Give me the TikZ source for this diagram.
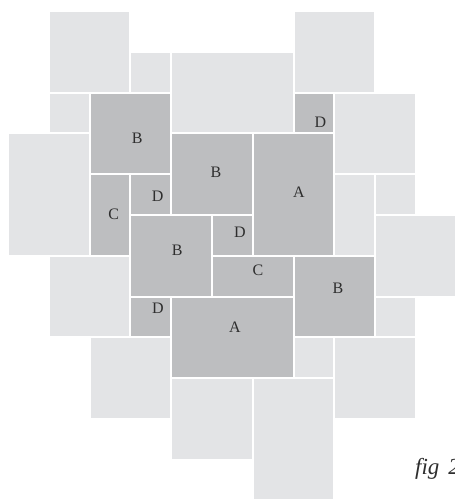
\documentclass[tikz,border=0pt]{standalone}
\usepackage{fontspec}
\setmainfont{Liberation Serif}
\definecolor{tlight}{HTML}{E3E4E6}
\definecolor{tdark}{HTML}{BDBEC0}
\definecolor{ink}{HTML}{2E2E2E}
\newcommand{\pavetile}[5]{\fill[#1] ({9+40.8*#2},{12+40.8*#3}) rectangle ({9+40.8*(#2+#4)-2},{12+40.8*(#3+#5)-2});}
\begin{document}
\begin{tikzpicture}[x=1pt,y=-1pt,
  light/.style={fill=tlight},
  dark/.style={fill=tdark},
  lbl/.style={text=ink,font=\fontsize{16}{16}\selectfont,inner sep=0pt}]
\useasboundingbox (0,0) rectangle (455,499);
\fill[white] (0,0) rectangle (455,499);
% light tiles
\pavetile{light}{1}{0}{2}{2}
\pavetile{light}{7}{0}{2}{2}
\pavetile{light}{3}{1}{1}{1}
\pavetile{light}{4}{1}{3}{2}
\pavetile{light}{1}{2}{1}{1}
\pavetile{light}{8}{2}{2}{2}
\pavetile{light}{0}{3}{2}{3}
\pavetile{light}{8}{4}{1}{2}
\pavetile{light}{9}{4}{1}{1}
\pavetile{light}{9}{5}{2}{2}
\pavetile{light}{1}{6}{2}{2}
\pavetile{light}{9}{7}{1}{1}
\pavetile{light}{2}{8}{2}{2}
\pavetile{light}{7}{8}{1}{1}
\pavetile{light}{8}{8}{2}{2}
\pavetile{light}{4}{9}{2}{2}
\pavetile{light}{6}{9}{2}{3}
% dark tiles
\pavetile{dark}{2}{2}{2}{2}
\pavetile{dark}{7}{2}{1}{1}
\pavetile{dark}{4}{3}{2}{2}
\pavetile{dark}{6}{3}{2}{3}
\pavetile{dark}{2}{4}{1}{2}
\pavetile{dark}{3}{4}{1}{1}
\pavetile{dark}{3}{5}{2}{2}
\pavetile{dark}{5}{5}{1}{1}
\pavetile{dark}{5}{6}{2}{1}
\pavetile{dark}{7}{6}{2}{2}
\pavetile{dark}{3}{7}{1}{1}
\pavetile{dark}{4}{7}{3}{2}
% labels
\node[lbl] (b1) at (137.3,138.3) {B};
\node[lbl] (b2) at (216,172) {B};
\node[lbl] (a1) at (299,192) {A};
\node[lbl] (d1) at (320.5,122.5) {D};
\node[lbl] (c1) at (113.7,214.3) {C};
\node[lbl] (d2) at (157.7,196.7) {D};
\node[lbl] (b3) at (177.3,250) {B};
\node[lbl] (d3) at (240,232) {D};
\node[lbl] (c2) at (258,270) {C};
\node[lbl] (b4) at (338,288.5) {B};
\node[lbl] (d4) at (158,308) {D};
\node[lbl] (a2) at (235,327) {A};
\node[text=ink,font=\fontsize{23}{23}\selectfont\itshape,inner sep=0pt,anchor=base west] (fig) at (415,474) {fig\hspace{9pt}2};
\end{tikzpicture}
\end{document}
